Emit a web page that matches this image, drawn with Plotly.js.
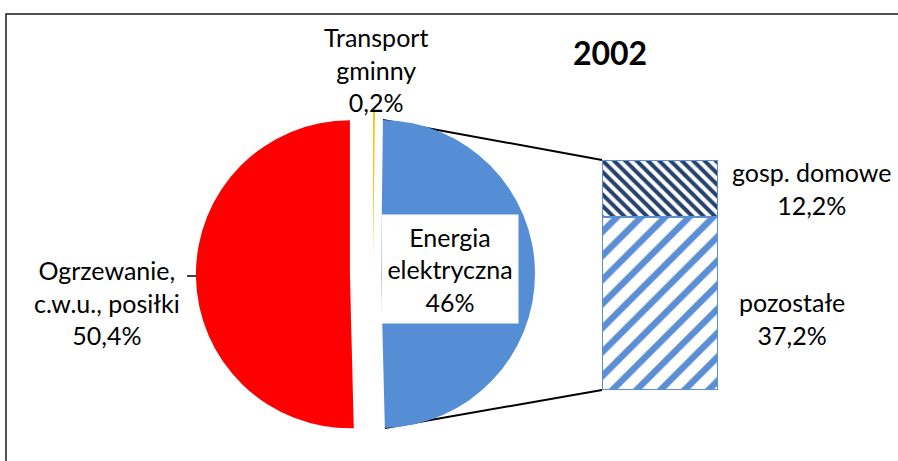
<!DOCTYPE html>
<html><head><meta charset="utf-8">
<script src="https://cdn.plot.ly/plotly-3.0.1.min.js"></script>
<style>html,body{margin:0;padding:0;background:#fff;} #chart{width:898px;height:461px;}</style>
</head><body><div id="chart"></div>
<script>
// ---- data ----
const chartTitle = "2002";
const pieLabels = ["Transport<br>gminny", "Energia<br>elektryczna", "Ogrzewanie,<br>c.w.u., posiłki"];
const pieValues = [0.2, 49.4, 50.4];
const pieValueText = ["0,2%", "46%", "50,4%"];
const barLabels = ["pozostałe", "gosp. domowe"];
const barValues = [37.2, 12.2];
const barValueText = ["37,2%", "12,2%"];

// ---- styles / geometry ----
const W = 898, H = 461;
const px = x => x / W, py = y => 1 - y / H;
const pieColors = ["#FFC000", "#558ED5", "#FF0000"];
const piePull = [0.065, 0.052, 0.15];
const pieCx = 373, pieCy = 274, pieR = 154;
const maxPull = Math.max(...piePull);
const half = pieR * (1 + maxPull);
const FONT = "Lato, 'Liberation Sans', sans-serif";
const FS = 25;

const barTotal = barValues.reduce((a, b) => a + b, 0);
const barDomX = [px(602), px(718)];
const barDomY = [py(390), py(160)];

// blue slice edge points (clockwise from 12 o'clock)
const tot = pieValues.reduce((a, b) => a + b, 0);
const a1 = 2 * Math.PI * pieValues[0] / tot;
const a2 = 2 * Math.PI * (pieValues[0] + pieValues[1]) / tot;
const am = (a1 + a2) / 2;
const bcx = pieCx + piePull[1] * pieR * Math.sin(am);
const bcy = pieCy - piePull[1] * pieR * Math.cos(am);
const topPt = [bcx + pieR * Math.sin(a1), bcy - pieR * Math.cos(a1)];
const botPt = [bcx + pieR * Math.sin(a2), bcy - pieR * Math.cos(a2)];

const pie = {
  type: 'pie', values: pieValues, labels: pieLabels, sort: false,
  direction: 'clockwise', rotation: 0, pull: piePull,
  marker: { colors: pieColors, line: { width: 0 } },
  textinfo: 'none', hoverinfo: 'none', showlegend: false,
  domain: { x: [px(pieCx - half), px(pieCx + half)], y: [py(pieCy + half), py(pieCy - half)] }
};

const barStyles = [
  { shape: '/', fgcolor: '#5B8ED5', size: 17, solidity: 0.38 },
  { shape: '\\', fgcolor: '#26416B', size: 8, solidity: 0.5 }
];
const bars = barValues.map((v, i) => ({
  type: 'bar', x: [0], y: [v], width: [1], name: barLabels[i],
  marker: { color: 'white', line: { color: '#5B8ED5', width: 2 },
    pattern: Object.assign({ bgcolor: 'white', fillmode: 'replace' }, barStyles[i]) },
  hoverinfo: 'none', showlegend: false, xaxis: 'x', yaxis: 'y'
}));

const ann = (x, y, text, extra) => Object.assign({
  xref: 'paper', yref: 'paper', x: px(x), y: py(y), xanchor: 'center', yanchor: 'middle',
  text: text, showarrow: false, align: 'center', font: { family: FONT, size: FS, color: '#000' }
}, extra || {});

const annotations = [
  ann(376, 69, pieLabels[0] + '<br>' + pieValueText[0]),
  ann(450, 269, pieLabels[1] + '<br>' + pieValueText[1], { bgcolor: '#fff', width: 134, height: 106 }),
  ann(107, 302, pieLabels[2] + '<br>' + pieValueText[2]),
  ann(812, 188, barLabels[1] + '<br>' + barValueText[1]),
  ann(792, 318, barLabels[0] + '<br>' + barValueText[0])
];

const shapes = [
  { type: 'rect', xref: 'paper', yref: 'paper', x0: px(6), x1: px(W + 20), y0: py(14), y1: py(H + 20),
    line: { color: '#1a1a1a', width: 1.5 }, fillcolor: 'rgba(0,0,0,0)', layer: 'below' },
  { type: 'line', xref: 'paper', yref: 'paper', x0: px(topPt[0]), y0: py(topPt[1]), x1: barDomX[0], y1: barDomY[1],
    line: { color: '#000', width: 2 }, layer: 'below' },
  { type: 'line', xref: 'paper', yref: 'paper', x0: px(botPt[0]), y0: py(botPt[1]), x1: barDomX[0], y1: barDomY[0],
    line: { color: '#000', width: 2 }, layer: 'below' },
  { type: 'line', xref: 'paper', yref: 'paper', x0: px(187), y0: py(276), x1: px(pieCx - piePull[2] * pieR - pieR + 1), y1: py(276),
    line: { color: '#000', width: 1.5 }, layer: 'below' }
];

const layout = {
  width: W, height: H, margin: { l: 0, r: 0, t: 0, b: 0 },
  paper_bgcolor: '#fff', plot_bgcolor: 'rgba(0,0,0,0)',
  title: { text: '<b>' + chartTitle + '</b>', x: px(610), xanchor: 'center', y: py(54), yanchor: 'middle',
    font: { family: FONT, size: 32, color: '#000' } },
  barmode: 'stack', bargap: 0,
  xaxis: { domain: barDomX, range: [-0.5, 0.5], visible: false, fixedrange: true },
  yaxis: { domain: [barDomY[0], barDomY[1]], range: [0, barTotal], visible: false, fixedrange: true },
  annotations: annotations, shapes: shapes, showlegend: false
};

Plotly.newPlot('chart', [pie].concat(bars), layout, { displayModeBar: false, staticPlot: true });
</script></body></html>
